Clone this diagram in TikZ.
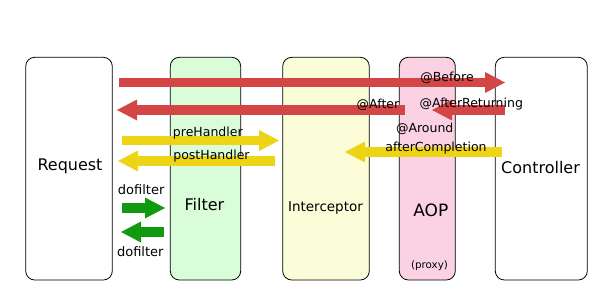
\documentclass[tikz,border=0pt]{standalone}
\usepackage{fontspec}
\setmainfont{DejaVu Sans}
\usetikzlibrary{arrows.meta}
\definecolor{redA}{HTML}{D44646}
\definecolor{yelA}{HTML}{EDD515}
\definecolor{grnA}{HTML}{109A10}
\definecolor{filterC}{HTML}{D8FDD8}
\definecolor{interC}{HTML}{FBFDD9}
\definecolor{aopC}{HTML}{FAD2E4}
\begin{document}
\begin{tikzpicture}[x=1pt,y=-1pt,
  box/.style={draw=black,line width=0.8pt,rounded corners=9pt,inner sep=0pt,minimum height=222.7pt},
  big/.style={anchor=base,inner sep=0pt,font=\fontsize{16}{16}\selectfont},
  lbl/.style={anchor=base,inner sep=0pt,font=\fontsize{12.5}{12.5}\selectfont},
  blk/.style={line width=9.5pt,-{Triangle[length=20pt,width=21pt,line width=0pt 0 0]}},
]
\useasboundingbox (0,0) rectangle (600,300);
% boxes
\node[box,minimum width=86.6pt] (req) at (69,168.65) {};
\node[box,minimum width=70.4pt,fill=filterC] (fil) at (205.5,168.65) {};
\node[box,minimum width=86.6pt,fill=interC] (int) at (326,168.65) {};
\node[box,minimum width=56pt,fill=aopC] (aop) at (427.3,168.65) {};
\node[box,minimum width=92pt] (ctl) at (541.3,168.65) {};
% box labels
\node[big] (reqt) at (70,170) {Request};
\node[big] (filt) at (204.5,210.7) {Filter};
\node[big,font=\fontsize{13.5}{13.5}\selectfont] (intt) at (325.5,211.7) {Interceptor};
\node[big,font=\fontsize{17}{17}\selectfont] (aopt) at (430.8,216.7) {AOP};
\node[big,font=\fontsize{10.3}{10.3}\selectfont] (prox) at (429.5,268) {(proxy)};
\node[big] (ctlt) at (540.5,173.3) {Controller};
% arrow end points
\coordinate (a1s) at (119,82.5);  \coordinate (a1e) at (505,82.5);
\coordinate (a2s) at (405,110);   \coordinate (a2e) at (117,110);
\coordinate (a3s) at (505,110);   \coordinate (a3e) at (432,110);
\coordinate (a4s) at (122,140.5); \coordinate (a4e) at (279,140.5);
\coordinate (a5s) at (275,161);   \coordinate (a5e) at (118,161);
\coordinate (a6s) at (502,152);   \coordinate (a6e) at (345,152);
\coordinate (a7s) at (122,208);   \coordinate (a7e) at (165,208);
\coordinate (a8s) at (164,232);   \coordinate (a8e) at (121,232);
% arrows
\draw[blk,redA] (a1s) -- (a1e);
\draw[blk,redA] (a2s) -- (a2e);
\draw[blk,redA] (a3s) -- (a3e);
\draw[blk,yelA] (a4s) -- (a4e);
\draw[blk,yelA] (a5s) -- (a5e);
\draw[blk,yelA] (a6s) -- (a6e);
\draw[blk,grnA] (a7s) -- (a7e);
\draw[blk,grnA] (a8s) -- (a8e);
% arrow labels
\node[lbl] (l1) at (447,81.7) {@Before};
\node[lbl] (l2) at (378,108.3) {@After};
\node[lbl] (l3) at (471.3,107.7) {@AfterReturning};
\node[lbl] (l4) at (424.7,132.7) {@Around};
\node[lbl] (l5) at (436,151.7) {afterCompletion};
\node[lbl] (l6) at (207.8,136.7) {preHandler};
\node[lbl] (l7) at (211.5,159.3) {postHandler};
\node[lbl,font=\fontsize{13}{13}\selectfont] (l8) at (141.2,194) {dofilter};
\node[lbl,font=\fontsize{13}{13}\selectfont] (l9) at (140.3,256.7) {dofilter};
\end{tikzpicture}
\end{document}
